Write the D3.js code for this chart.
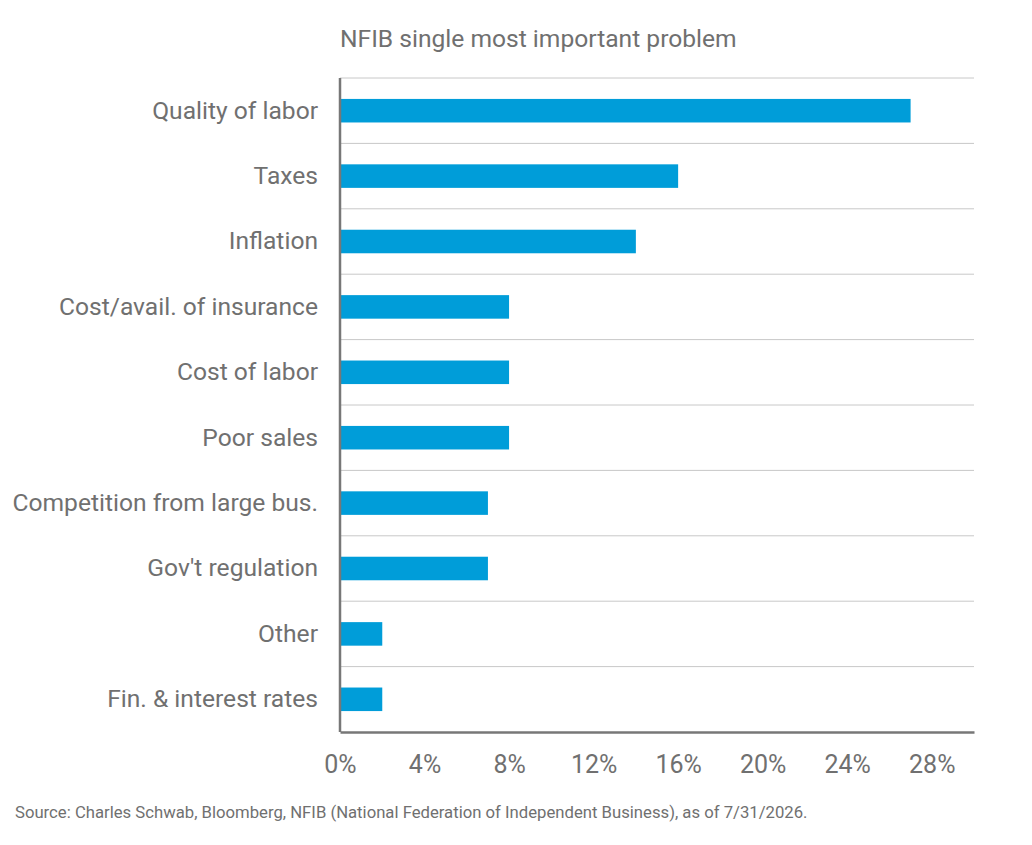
<!DOCTYPE html>
<html>
<head>
<meta charset="utf-8">
<script src="https://cdn.jsdelivr.net/npm/d3@7"></script>
<style>
  body { margin: 0; background: #fff; }
  svg text { font-family: Roboto, "Noto Sans", sans-serif; fill: #707070; }
</style>
</head>
<body>
<div id="chart"></div>
<script>
// chart data
var categories = ["Quality of labor", "Taxes", "Inflation", "Cost/avail. of insurance",
  "Cost of labor", "Poor sales", "Competition from large bus.", "Gov't regulation",
  "Other", "Fin. & interest rates"];
var values = [27, 16, 14, 8, 8, 8, 7, 7, 2, 2];
var xTicks = [0, 4, 8, 12, 16, 20, 24, 28];

var W = 1032, H = 845;
var margin = {top: 78, right: 58, bottom: 113, left: 340},
  width = W - margin.left - margin.right,
  height = H - margin.top - margin.bottom;

var svg = d3.select("#chart")
.append("svg")
  .attr("width", W)
  .attr("height", H);

var g = svg.append("g")
  .attr("transform", "translate(" + margin.left + "," + margin.top + ")");

var x = d3.scaleLinear().domain([0, 30]).range([0, width]);
var y = d3.scaleBand().domain(categories).range([0, height]).paddingInner(0.64).paddingOuter(0.32);

// gridlines between categories
var step = y.step();
var bounds = d3.range(categories.length).map(function(i) { return i * step; });
g.selectAll(".grid")
  .data(bounds)
  .enter().append("line")
  .attr("x1", 0).attr("x2", width)
  .attr("y1", function(d) { return d; }).attr("y2", function(d) { return d; })
  .style("stroke", "#c8c8c8").style("stroke-width", 1);

// bars
g.selectAll(".bar")
  .data(values)
  .enter().append("rect")
  .attr("x", x(0))
  .attr("y", function(d, i) { return y(categories[i]); })
  .attr("width", function(d) { return x(d) - x(0); })
  .attr("height", y.bandwidth())
  .style("fill", "#009dd9");

// category labels
var yAxis = g.append("g").call(d3.axisLeft(y).tickSize(0).tickPadding(22));
yAxis.select(".domain").remove();
yAxis.selectAll("text").style("font-size", "24.6px").style("fill", "#707070");

// x axis
var xAxis = g.append("g")
  .attr("transform", "translate(0," + height + ")")
  .call(d3.axisBottom(x).tickValues(xTicks).tickSize(0).tickPadding(23)
    .tickFormat(function(d) { return d + "%"; }));
xAxis.select(".domain").style("stroke", "#777").style("stroke-width", 2.5);
xAxis.selectAll("text").style("font-size", "25px").style("fill", "#707070");

// left axis line
g.append("line")
  .attr("x1", 0).attr("x2", 0).attr("y1", 0).attr("y2", height)
  .style("stroke", "#777").style("stroke-width", 2.5);

// title
svg.append("text")
  .attr("x", margin.left).attr("y", 47)
  .style("font-size", "24.6px")
  .text("NFIB single most important problem");

// source
svg.append("text")
  .attr("x", 15).attr("y", 818)
  .style("font-size", "16.7px")
  .text("Source: Charles Schwab, Bloomberg, NFIB (National Federation of Independent Business), as of 7/31/2026.");
</script>
</body>
</html>
